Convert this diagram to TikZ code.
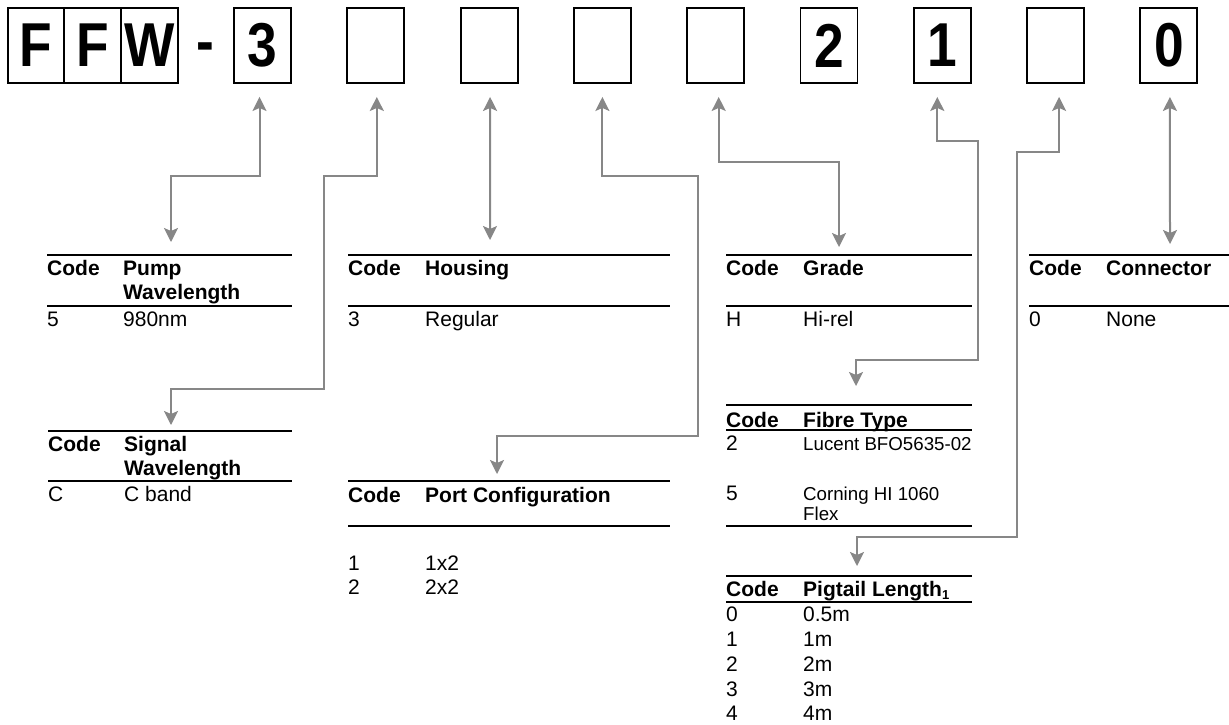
\documentclass[tikz,border=0pt]{standalone}
\usepackage{fontspec}
\setmainfont{Liberation Sans}
\usetikzlibrary{arrows.meta,calc}
\definecolor{conngray}{RGB}{135,135,135}
\newcommand{\bigch}[1]{\scalebox{0.86}[1]{\fontsize{62}{62}\selectfont\bfseries #1}}
\begin{document}
\begin{tikzpicture}[x=1pt,y=-1pt,
  digitbox/.style={draw,line width=1.9pt,minimum width=57pt,minimum height=75pt,inner sep=0pt},
  conn/.style={draw=conngray,line width=2pt,
    {Stealth[length=14pt,width=14pt,inset=3pt,fill=conngray]}-{Stealth[length=14pt,width=14pt,inset=3pt,fill=conngray]},
    shorten <=13pt},
  rulel/.style={line width=2.3pt},
  hd/.style={anchor=base west,inner sep=0pt,font=\fontsize{21}{23}\selectfont\bfseries},
  tx/.style={anchor=base west,inner sep=0pt,font=\fontsize{21}{24}\selectfont},
  sm/.style={anchor=base west,inner sep=0pt,font=\fontsize{18.7}{20.7}\selectfont},
]
\useasboundingbox (0,0) rectangle (1229,724);

% ---- top code boxes ----
\node[digitbox,minimum width=56pt] (f1) at (36,45.5) {\bigch{F}};
\node[digitbox] (f2) at (92.5,45.5) {\bigch{F}};
\node[digitbox] (w) at (149.5,45.5) {\bigch{W}};
\node[inner sep=0pt,anchor=base] (dash) at (205.5,62) {\bigch{-}};
\node[digitbox] (b1) at (262.5,45.5) {\bigch{3}};
\node[digitbox] (b2) at (375.8,45.5) {};
\node[digitbox] (b3) at (489.1,45.5) {};
\node[digitbox] (b4) at (602.4,45.5) {};
\node[digitbox] (b5) at (715.7,45.5) {};
\node[digitbox] (b6) at (829,45.5) {\bigch{2}};
\node[digitbox] (b7) at (942.3,45.5) {\bigch{1}};
\node[digitbox] (b8) at (1055.6,45.5) {};
\node[digitbox] (b9) at (1168.9,45.5) {\bigch{0}};

% ---- tables ----
% Pump wavelength
\draw[rulel] (47,255) -- (292,255);
\draw[rulel] (47,306) -- (292,306);
\node[hd] (pumpC) at (47,275.7) {Code};
\node[hd] (pumpH1) at (123,275.7) {Pump};
\node[hd] (pumpH2) at (123,299) {Wavelength};
\node[tx] (pumpK) at (47,326.5) {5};
\node[tx] (pumpV) at (123,326.5) {980nm};
\coordinate (pumpA) at (171,242);

% Signal wavelength
\draw[rulel] (48,430.7) -- (292,430.7);
\draw[rulel] (48,481) -- (292,481);
\node[hd] (sigC) at (48,451.7) {Code};
\node[hd] (sigH1) at (124,451.7) {Signal};
\node[hd] (sigH2) at (124,475) {Wavelength};
\node[tx] (sigK) at (48,501.7) {C};
\node[tx] (sigV) at (124,501.7) {C band};
\coordinate (sigA) at (171,425);

% Housing
\draw[rulel] (348,255) -- (670,255);
\draw[rulel] (348,306) -- (670,306);
\node[hd] (houC) at (348,275.7) {Code};
\node[hd] (houH) at (425,275.7) {Housing};
\node[tx] (houK) at (348,326.5) {3};
\node[tx] (houV) at (425,326.5) {Regular};
\coordinate (houA) at (490,240);

% Port configuration
\draw[rulel] (348,481) -- (670,481);
\draw[rulel] (348,526) -- (670,526);
\node[hd] (porC) at (348,502) {Code};
\node[hd] (porH) at (425,502) {Port Configuration};
\node[tx] (porK1) at (348,570) {1};
\node[tx] (porV1) at (425,570) {1x2};
\node[tx] (porK2) at (348,594) {2};
\node[tx] (porV2) at (425,594) {2x2};
\coordinate (porA) at (497,474);

% Grade
\draw[rulel] (726,255) -- (972,255);
\draw[rulel] (726,306) -- (972,306);
\node[hd] (graC) at (726,275.7) {Code};
\node[hd] (graH) at (803,275.7) {Grade};
\node[tx] (graK) at (726,326.5) {H};
\node[tx] (graV) at (803,326.5) {Hi-rel};
\coordinate (graA) at (839,247);

% Fibre type
\draw[rulel] (726,405) -- (972,405);
\draw[rulel] (726,430.3) -- (972,430.3);
\draw[rulel] (726,526) -- (972,526);
\node[hd] (fibC) at (726,427) {Code};
\node[hd] (fibH) at (803,427) {Fibre Type};
\node[tx] (fibK1) at (726,450.5) {2};
\node[sm] (fibV1) at (803,450) {Lucent BFO5635-02};
\node[tx] (fibK2) at (726,500.5) {5};
\node[sm] (fibV2) at (803,500) {Corning HI 1060};
\node[sm] (fibV2b) at (803,520.7) {Flex};
\coordinate (fibA) at (856,386);

% Pigtail length
\draw[rulel] (726,576) -- (972,576);
\draw[rulel] (726,601.7) -- (972,601.7);
\node[hd] (pigC) at (726,596.7) {Code};
\node[hd] (pigH) at (803,596.7) {Pigtail Length{\fontsize{13}{13}\selectfont\raisebox{-3pt}{1}}};
\node[tx] (pigK0) at (726,621.7) {0};
\node[tx] (pigV0) at (803,621.7) {0.5m};
\node[tx] (pigK1) at (726,646.5) {1};
\node[tx] (pigV1) at (803,646.5) {1m};
\node[tx] (pigK2) at (726,671.3) {2};
\node[tx] (pigV2) at (803,671.3) {2m};
\node[tx] (pigK3) at (726,696) {3};
\node[tx] (pigV3) at (803,696) {3m};
\node[tx] (pigK4) at (726,720.7) {4};
\node[tx] (pigV4) at (803,720.7) {4m};
\coordinate (pigA) at (857,566);

% Connector
\draw[rulel] (1029,255) -- (1229,255);
\draw[rulel] (1029,306) -- (1229,306);
\node[hd] (conC) at (1029,275.7) {Code};
\node[hd] (conH) at (1106,275.7) {Connector};
\node[tx] (conK) at (1029,326.5) {0};
\node[tx] (conV) at (1106,326.5) {None};
\coordinate (conA) at (1170,244);

% ---- connectors ----
\draw[conn] ([xshift=-3pt]b1.south) |- (171,176) -- (pumpA);
\draw[conn] ([xshift=1pt]b2.south) |- (324,176) |- (171,389.3) -- (sigA);
\draw[conn] ([xshift=1pt]b3.south) -- (houA);
\draw[conn] (b4.south) |- (698,176) |- (497,436) -- (porA);
\draw[conn] ([xshift=3pt]b5.south) |- (839,162) -- (graA);
\draw[conn] ([xshift=-5pt]b7.south) |- (977.7,141) |- (856,360) -- (fibA);
\draw[conn] ([xshift=3.5pt]b8.south) |- (1017,152) |- (857,537) -- (pigA);
\draw[conn] ([xshift=1pt]b9.south) -- (conA);
\end{tikzpicture}
\end{document}
